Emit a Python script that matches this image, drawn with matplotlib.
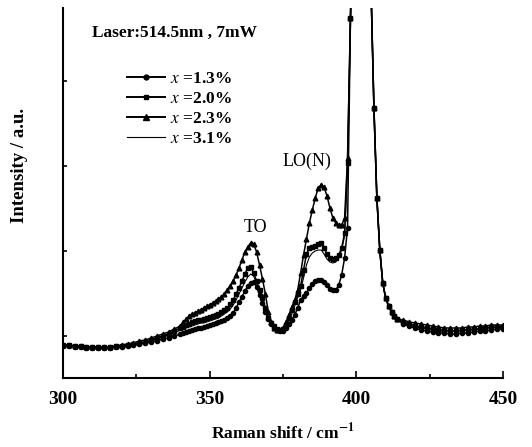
import matplotlib
matplotlib.use("Agg")
import matplotlib.pyplot as plt
from matplotlib.lines import Line2D
from matplotlib.ticker import FixedLocator, NullFormatter

plt.rcParams['font.family'] = ['Liberation Serif', 'DejaVu Serif']
plt.rcParams['mathtext.fontset'] = 'stix'

# ---- data (Raman shift in cm^-1, intensity in arbitrary units) ----
x_left = list(range(300, 341, 2)) + list(range(341, 398))
x_peak = list(range(398, 415))
x_right = list(range(416, 451, 2))

# x = 2.3 % (triangles)
tri_left = [33, 33, 32, 32, 31, 31, 31, 31, 31, 32, 33, 34, 35, 37, 38, 40, 42, 44, 46, 49, 52,
            56, 59, 62, 64, 65, 67, 68, 70, 72, 73,
            75, 77, 79, 81, 84, 88, 92, 97, 103, 110,
            118, 126, 131, 135, 134, 126, 113, 99, 84, 66,
            56, 50, 48, 48, 50, 56, 63, 71, 78, 88,
            105, 123, 139, 155, 168, 180, 190, 193, 191, 182,
            170, 160, 155, 153, 153, 160, 220]
# x = 2.0 % (squares)
sq_left = [33, 33, 32, 32, 31, 31, 31, 31, 31, 32, 32, 33, 34, 35, 36, 38, 40, 42, 44, 47, 50,
           51, 53, 54, 56, 57, 58, 58, 59, 60, 61,
           62, 63, 64, 66, 68, 70, 74, 78, 84, 90,
           97, 104, 110, 111, 105, 97, 88, 80, 70, 60,
           55, 52, 49, 48, 49, 53, 60, 68, 76, 84,
           92, 108, 124, 130, 131, 132, 134, 135, 130, 124,
           120, 119, 120, 123, 130, 145, 215]
# x = 3.1 % (plain line)
ln_left = [33, 32, 32, 31, 31, 31, 30, 30, 31, 31, 32, 33, 33, 34, 35, 37, 39, 41, 43, 45, 48,
           49, 50, 51, 52, 53, 54, 55, 55, 56, 57,
           58, 59, 60, 62, 64, 66, 69, 73, 78, 84,
           90, 96, 101, 104, 102, 95, 87, 78, 68, 59,
           54, 51, 48, 47, 48, 51, 57, 64, 72, 80,
           88, 100, 113, 121, 125, 127, 128, 128, 124, 119,
           116, 115, 116, 120, 128, 142, 210]
# x = 1.3 % (circles)
ci_left = [32, 32, 31, 31, 30, 30, 30, 30, 30, 31, 31, 32, 33, 34, 35, 36, 37, 39, 40, 42, 44,
           45, 46, 47, 48, 49, 50, 50, 51, 52, 53,
           54, 55, 56, 57, 58, 60, 62, 65, 70, 76,
           81, 87, 92, 95, 96, 91, 83, 75, 66, 59,
           54, 50, 48, 47, 47, 50, 54, 58, 63, 70,
           78, 82, 85, 90, 94, 97, 98, 98, 96, 93,
           89, 88, 88, 93, 103, 120, 150]

# main peak, common to all samples
peak_common = [360, 500, 640, 700, 690, 610, 500, 390, 270, 180, 128, 95, 80, 72, 66, 62, 59]

tri_right = [58, 56, 55, 54, 53, 52, 51, 50, 50, 50, 50, 51, 51, 52, 52, 53, 53, 53]
sq_right = [56, 54, 52, 51, 50, 49, 48, 48, 47, 47, 48, 48, 49, 49, 50, 51, 51, 51]
ln_right = [55, 53, 51, 50, 49, 48, 47, 47, 47, 47, 47, 48, 48, 49, 50, 50, 51, 51]
ci_right = [54, 52, 50, 48, 47, 46, 45, 45, 44, 44, 45, 45, 46, 47, 47, 48, 49, 49]

labels = [r"$x$ =1.3%", r"$x$ =2.0%", r"$x$ =2.3%", r"$x$ =3.1%"]

xs = x_left + x_peak + x_right
series = [
    (ci_left + peak_common + ci_right, 'o', 3.0),
    (sq_left + peak_common + sq_right, 's', 2.8),
    (tri_left + peak_common + tri_right, '^', 3.4),
    (ln_left + peak_common + ln_right, None, 0),
]

fig = plt.figure(figsize=(5.32, 4.47), dpi=100)
ax = fig.add_axes([63/532, 1 - 378/447, (503-63)/532, (378-8)/447])

handles = []
for (ys, mk, ms), lab in zip(series, labels):
    if mk is None:
        ax.plot(xs, ys, color='black', lw=0.8)
        handles.append(Line2D([], [], color='black', lw=0.8))
    else:
        ax.plot(xs, ys, color='black', lw=1.1, marker=mk, ms=ms, mec='black', mfc='black')
        handles.append(Line2D([], [], color='black', lw=1.4, marker=mk, ms=ms + 0.5))

ax.set_xlim(300, 450)
ax.set_ylim(0, 370)
for s in ['top', 'right']:
    ax.spines[s].set_visible(False)
for s in ['left', 'bottom']:
    ax.spines[s].set_linewidth(1.5)

ax.set_xticks([300, 350, 400, 450])
ax.xaxis.set_minor_locator(FixedLocator([325, 375, 425]))
ax.yaxis.set_major_locator(FixedLocator([42, 127, 212, 297]))
ax.yaxis.set_major_formatter(NullFormatter())
ax.tick_params(axis='x', which='major', direction='in', length=5, width=1.2, pad=9,
               labelsize=14)
ax.tick_params(axis='x', which='minor', direction='in', length=3, width=1.2)
ax.tick_params(axis='y', which='major', direction='in', length=3, width=1.2)
for t in ax.get_xticklabels():
    t.set_fontweight('bold')

fig.text(283/532, 1 - 432/447, r"Raman shift / cm$^{\mathbf{-1}}$", ha='center', va='center',
         fontsize=12.5, fontweight='bold')
fig.text(20/532, 1 - 165/447, "Intensity / a.u.", ha='center', va='center', rotation=90,
         fontsize=13.5, fontweight='bold')

ax.text(92/532, 1 - 33/447, "Laser:514.5nm , 7mW", transform=fig.transFigure, ha='left',
        va='center', fontsize=12.5, fontweight='bold')
ax.text(255/532, 1 - 227/447, "TO", transform=fig.transFigure, ha='center', va='center',
        fontsize=13)
ax.text(307/532, 1 - 161/447, "LO(N)", transform=fig.transFigure, ha='center', va='center',
        fontsize=13)

leg = fig.legend(handles, labels, loc='upper left', bbox_to_anchor=(127/532, 1 - 71/447),
                 frameon=False, fontsize=12.5, handlelength=2.2, handletextpad=0.3,
                 labelspacing=0.22, borderpad=0, borderaxespad=0, numpoints=1)
for t in leg.get_texts():
    t.set_fontweight('bold')

fig.savefig("out.png", dpi=100)
